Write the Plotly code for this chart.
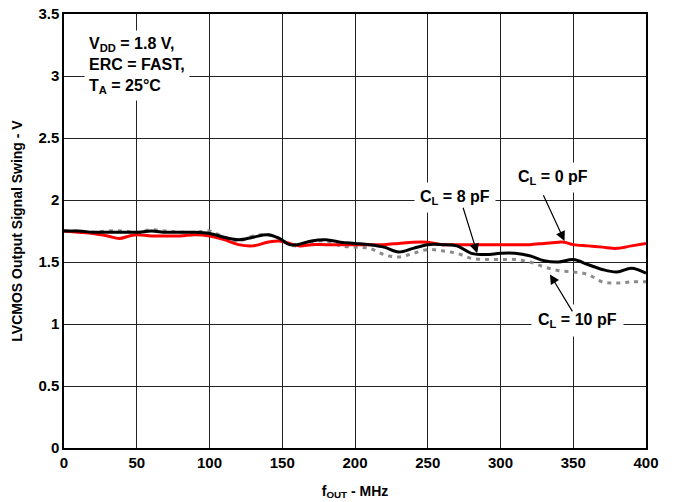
import plotly.graph_objects as go

# 0 pF (red)
f_red = [0, 10, 20, 30, 38, 45, 50, 60, 70, 80, 90, 100, 110, 120, 130, 140, 148, 155, 162, 170,
         180, 190, 200, 210, 220, 230, 240, 250, 260, 270, 280, 290, 300, 310, 320, 330, 340, 344,
         350, 360, 370, 380, 390, 400]
v_red = [1.75, 1.74, 1.73, 1.71, 1.69, 1.71, 1.72, 1.71, 1.71, 1.71, 1.72, 1.71, 1.68, 1.64, 1.63,
         1.66, 1.67, 1.65, 1.63, 1.64, 1.64, 1.64, 1.64, 1.64, 1.64, 1.65, 1.66, 1.66, 1.64, 1.64,
         1.64, 1.64, 1.64, 1.64, 1.64, 1.65, 1.66, 1.66, 1.64, 1.63, 1.62, 1.61, 1.63, 1.65]

# 8 pF (black)
f_blk = [0, 10, 20, 30, 40, 50, 60, 70, 80, 90, 100, 110, 120, 130, 140, 148, 155, 160, 170, 180,
         190, 200, 210, 220, 230, 240, 250, 260, 270, 280, 290, 300, 310, 320, 330, 340, 350, 360,
         370, 380, 390, 400]
v_blk = [1.75, 1.75, 1.74, 1.74, 1.74, 1.74, 1.75, 1.74, 1.74, 1.74, 1.73, 1.70, 1.68, 1.70, 1.72,
         1.69, 1.64, 1.64, 1.67, 1.68, 1.66, 1.65, 1.64, 1.62, 1.58, 1.61, 1.64, 1.64, 1.63, 1.57,
         1.56, 1.57, 1.57, 1.55, 1.51, 1.50, 1.52, 1.48, 1.44, 1.42, 1.45, 1.41]

# 10 pF (gray dotted)
f_gry = f_blk
v_gry = [1.75, 1.75, 1.74, 1.75, 1.75, 1.74, 1.76, 1.75, 1.74, 1.74, 1.75, 1.70, 1.67, 1.71, 1.72,
         1.69, 1.64, 1.63, 1.66, 1.67, 1.63, 1.62, 1.61, 1.56, 1.54, 1.57, 1.60, 1.59, 1.57, 1.53,
         1.52, 1.52, 1.52, 1.50, 1.46, 1.43, 1.42, 1.40, 1.34, 1.33, 1.34, 1.34]

x_ticks = [0, 50, 100, 150, 200, 250, 300, 350, 400]
y_ticks = [0, 0.5, 1, 1.5, 2, 2.5, 3, 3.5]
y_tick_labels = ["0", "0.5", "1", "1.5", "2", "2.5", "3", "3.5"]

FONT = "Liberation Sans"

fig = go.Figure()
fig.add_trace(go.Scatter(x=f_gry, y=v_gry, mode="lines", line=dict(color="#8c8c8c", width=3, dash="4px,5px", shape="spline"), showlegend=False))
fig.add_trace(go.Scatter(x=f_red, y=v_red, mode="lines", line=dict(color="#ff0000", width=3, shape="spline"), showlegend=False))
fig.add_trace(go.Scatter(x=f_blk, y=v_blk, mode="lines", line=dict(color="#000000", width=3, shape="spline"), showlegend=False))

axis_common = dict(showgrid=True, gridcolor="#222222", gridwidth=1, zeroline=False, automargin=False,
                   showline=True, linecolor="#000000", linewidth=1.5, mirror=True, ticks="",
                   tickfont=dict(family=FONT, size=15, color="#000", weight="bold"))

fig.update_xaxes(range=[0, 400], tickvals=x_ticks, ticktext=[str(v) for v in x_ticks],
                 title=dict(text="f<sub>OUT</sub> - MHz", font=dict(family=FONT, size=14, color="#000", weight="bold"), standoff=16),
                 **axis_common)
fig.update_yaxes(range=[0, 3.5], tickvals=y_ticks, ticktext=y_tick_labels,
                 title=dict(text="LVCMOS Output Signal Swing - V", font=dict(family=FONT, size=14, color="#000", weight="bold"), standoff=12),
                 **axis_common)

ann_font = dict(family=FONT, size=16, color="#000", weight="bold")

# text labels
fig.add_annotation(x=14, y=3.37, xref="x", yref="y", xanchor="left", yanchor="top", align="left",
                   text="V<sub>DD</sub> = 1.8 V,<br>ERC = FAST,<br>T<sub>A</sub> = 25°C",
                   showarrow=False, bgcolor="#ffffff", borderpad=4, font=ann_font)
fig.add_annotation(x=269, y=2.02, xref="x", yref="y", text="C<sub>L</sub> = 8 pF", showarrow=False,
                   bgcolor="#ffffff", borderpad=5, font=ann_font)
fig.add_annotation(x=336, y=2.18, xref="x", yref="y", text="C<sub>L</sub> = 0 pF", showarrow=False,
                   bgcolor="#ffffff", borderpad=5, font=ann_font)
fig.add_annotation(x=353, y=1.03, xref="x", yref="y", text="C<sub>L</sub> = 10 pF", showarrow=False,
                   bgcolor="#ffffff", borderpad=6, font=ann_font)

# arrows
arrow_style = dict(xref="x", yref="y", axref="x", ayref="y", text="", showarrow=True,
                   arrowhead=2, arrowsize=1.6, arrowwidth=1.2, arrowcolor="#000")
fig.add_annotation(x=284, y=1.57, ax=274, ay=1.95, **arrow_style)
fig.add_annotation(x=344, y=1.67, ax=329, ay=2.05, **arrow_style)
fig.add_annotation(x=334, y=1.40, ax=350, ay=1.09, **arrow_style)

fig.update_layout(width=679, height=502, margin=dict(l=64, r=33, t=14, b=54),
                  plot_bgcolor="#ffffff", paper_bgcolor="#ffffff",
                  font=dict(family=FONT, color="#000"))

# remove the default 8px page margin so the figure fills the window exactly
fig.write_html("out.html", config={"displayModeBar": False},
               post_script="document.body.style.margin='0px';document.body.style.overflow='hidden';")
